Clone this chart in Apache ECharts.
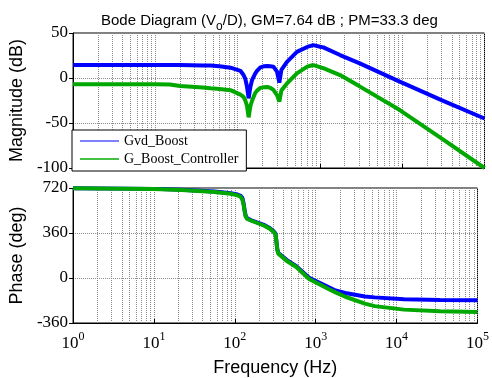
<!DOCTYPE html>
<html>
<head>
<meta charset="utf-8">
<script src="https://cdn.jsdelivr.net/npm/echarts@6/dist/echarts.min.js"></script>
<style>
  html, body { margin: 0; padding: 0; background: #fff; }
  #chart { width: 492px; height: 378px; }
</style>
</head>
<body>
<div id="chart"></div>
<script>
// frequency points (Hz) for the magnitude traces
const magFreq = [1, 10, 15, 20, 38, 47, 60, 82, 108, 118, 124, 130, 136, 143, 150, 164, 172, 189, 207, 230,
  250, 272, 301, 321, 340, 346, 398, 525, 700, 830, 1005, 1100, 1757, 3000, 9340, 30000, 100000];
const magBoost = [14.5, 14.5, 14.5, 14.4, 14, 13.8, 13, 11.5, 8, 3.3, -1, -9.7, -22.6, -9.7, -2, 5.2, 8, 11.9, 13, 13.3,
  13, 12.6, 7, -5.2, 8.9, 11, 18, 29, 34.5, 36.5, 34.8, 34, 25.5, 16.5, -4, -24.5, -45];
const magController = [-7, -7, -7.2, -9, -10.5, -11.4, -12.2, -13.5, -18.5, -21, -25, -31, -43.7, -31, -25, -16.5, -14, -11, -10.4, -10,
  -11, -13.3, -19, -26.3, -14, -12, -6, 5.2, 12.6, 14.4, 12, 11, 3.3, -9, -35.6, -67, -100];

// frequency points (Hz) for the phase traces
const phaseFreq = [1, 10, 22, 56, 89, 108, 118, 124, 128, 132, 136, 142, 160, 228, 270, 300, 318, 326, 335, 345,
  361, 436, 576, 828, 1457, 1757, 2321, 4053, 5358, 12360, 34360, 100000];
const phaseBoost = [718, 713, 706, 692, 679, 668, 658, 640, 600, 545, 498, 478, 462, 425, 400, 375, 355, 300, 230, 200,
  185, 145, 95, 2, -75, -100, -120, -148, -155, -170, -176, -178];
const phaseController = [718, 712, 704, 688, 674, 661, 650, 625, 590, 535, 492, 472, 458, 420, 395, 370, 350, 295, 225, 195,
  180, 138, 88, -8, -90, -115, -150, -205, -225, -253, -266, -272];

const magTicks = { min: -100, max: 50, step: 50 };
const phaseTicks = { min: -360, max: 720, step: 360 };
// log grid lines between the decades
const gridFreq = [2, 3, 4, 5, 6, 7, 8, 9, 20, 30, 40, 50, 60, 70, 80, 90,
  200, 300, 400, 500, 600, 700, 800, 900, 2000, 3000, 4000, 5000, 6000, 7000, 8000, 9000,
  20000, 30000, 40000, 50000, 60000, 70000, 80000, 90000];

const BLUE = '#0000ff';
const GREEN = '#00a800';
const SERIF = 'Liberation Serif';
const SANS = 'Liberation Sans';

const zip = (xs, ys) => xs.map((x, i) => [x, ys[i]]);

const chart = echarts.init(document.getElementById('chart'));

const gridStyle = { color: '#8a8a8a', type: [1, 1], width: 1 };

const makeX = (gridIndex, withLabels) => ({
  type: 'log',
  logBase: 10,
  gridIndex,
  min: 1,
  max: 100000,
  splitNumber: 5,
  name: withLabels ? 'Frequency (Hz)' : '',
  nameLocation: 'middle',
  nameGap: 36,
  nameTextStyle: { fontFamily: SANS, fontSize: 18, color: '#000' },
  axisLine: { onZero: false, lineStyle: { color: '#000', width: 1 } },
  axisTick: { inside: true, length: 4, lineStyle: { color: '#000' } },
  axisLabel: {
    show: withLabels,
    margin: 8,
    showMinLabel: true,
    showMaxLabel: true,
    alignMinLabel: 'center',
    alignMaxLabel: 'center',
    formatter: v => '{b|10}{e|' + Math.round(Math.log10(v)) + '}',
    rich: {
      b: { fontFamily: SERIF, fontSize: 17, color: '#000' },
      e: { fontFamily: SERIF, fontSize: 12, color: '#000', padding: [0, 0, 14, 0] },
    },
  },
  splitLine: { show: true, lineStyle: gridStyle },
});

const makeY = (gridIndex, name, ticks) => ({
  type: 'value',
  gridIndex,
  min: ticks.min,
  max: ticks.max,
  interval: ticks.step,
  name,
  nameLocation: 'middle',
  nameGap: 37,
  nameTextStyle: { fontFamily: SANS, fontSize: 18, color: '#000' },
  axisLine: { show: true, onZero: false, lineStyle: { color: '#000', width: 1 } },
  axisTick: { show: true, inside: false, length: 4, lineStyle: { color: '#000' } },
  axisLabel: { fontFamily: SERIF, fontSize: 17, color: '#000', margin: 5 },
  splitLine: { show: true, lineStyle: gridStyle },
});

const gridSeries = (idx) => ({
  type: 'line',
  xAxisIndex: idx,
  yAxisIndex: idx,
  data: [],
  silent: true,
  markLine: {
    silent: true,
    z: 1,
    animation: false,
    symbol: ['none', 'none'],
    label: { show: false },
    lineStyle: gridStyle,
    data: gridFreq.map(f => ({ xAxis: f })),
  },
});

const curve = (name, idx, data, color) => ({
  name,
  type: 'line',
  xAxisIndex: idx,
  yAxisIndex: idx,
  data,
  showSymbol: false,
  symbol: 'none',
  smooth: false,
  z: 3,
  lineStyle: { color, width: 4 },
  itemStyle: { color },
});

chart.setOption({
  animation: false,
  backgroundColor: '#fff',
  title: {
    text: 'Bode Diagram (V{o|o}/D), GM=7.64 dB ; PM=33.3 deg',
    left: 96,
    top: 3,
    textStyle: {
      fontFamily: SANS,
      fontSize: 15,
      fontWeight: 'normal',
      color: '#000',
      rich: { o: { fontFamily: SANS, fontSize: 12, color: '#000', padding: [13, 0, 0, 0] } },
    },
  },
  legend: {
    orient: 'vertical',
    left: 72,
    top: 130,
    padding: [3, 8, 4, 8],
    itemGap: 2,
    itemWidth: 39,
    itemHeight: 2,
    itemTextGap: 5,
    icon: 'rect',
    selectedMode: false,
    backgroundColor: '#fff',
    borderColor: '#000',
    borderWidth: 1,
    borderRadius: 0,
    textStyle: { fontFamily: SERIF, fontSize: 14, color: '#000', lineHeight: 16 },
    data: [
      { name: 'Gvd_Boost', itemStyle: { color: '#7f7fff' } },
      { name: 'G_Boost_Controller', itemStyle: { color: '#44c044' } },
    ],
  },
  grid: [
    { left: 72, right: 7.5, top: 33, height: 135, show: true, borderColor: '#000', borderWidth: 1, backgroundColor: 'transparent' },
    { left: 72, right: 7.5, top: 188, height: 136, show: true, borderColor: '#000', borderWidth: 1, backgroundColor: 'transparent' },
  ],
  xAxis: [makeX(0, false), makeX(1, true)],
  yAxis: [makeY(0, 'Magnitude (dB)', magTicks), makeY(1, 'Phase (deg)', phaseTicks)],
  series: [
    gridSeries(0),
    gridSeries(1),
    curve('Gvd_Boost', 0, zip(magFreq, magBoost), BLUE),
    curve('G_Boost_Controller', 0, zip(magFreq, magController), GREEN),
    curve('Gvd_Boost', 1, zip(phaseFreq, phaseBoost), BLUE),
    curve('G_Boost_Controller', 1, zip(phaseFreq, phaseController), GREEN),
  ],
});
</script>
</body>
</html>
